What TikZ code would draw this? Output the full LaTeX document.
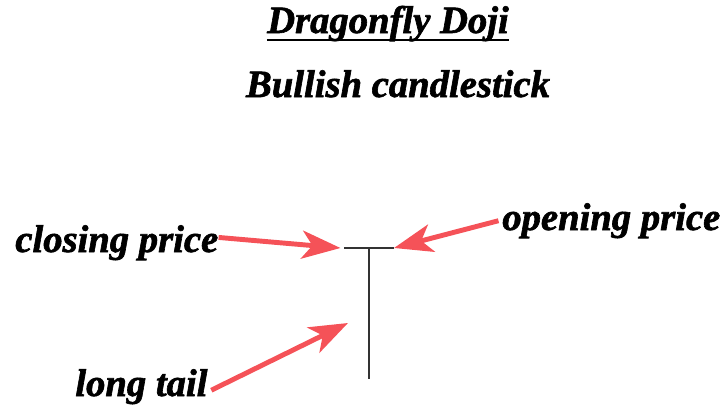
\documentclass[tikz,border=0pt]{standalone}
\usepackage{tikz}
\usepackage{xcolor}
\usepackage{fontspec}
\setmainfont{Liberation Serif}[BoldItalicFeatures={FakeBold=1.6}]
\usetikzlibrary{arrows.meta}
\definecolor{arrowred}{RGB}{245,82,88}
\tikzset{
	lbl/.style={inner sep=0pt, font=\fontsize{22}{26}\selectfont\bfseries\itshape, anchor=base west},
	pointer/.style={draw=arrowred, line width=2.8pt, -{Stealth[length=22pt,width=16pt,inset=6pt]}},
	wick/.style={line width=1.2pt, black!80}
}

\begin{document}
\begin{tikzpicture}[x=0.02cm,y=-0.02cm]
			\useasboundingbox (0,0) rectangle (725,407);
			\coordinate (A) at (344,248);
			\coordinate (B) at (394,248);
			\coordinate (M) at (369,248);
			\coordinate (L) at (369,379);
			\coordinate (P) at (348,323);
			\draw[wick] (A) -- (B);
			\draw[wick] (M) -- (L);
			\node[lbl, anchor=base] (T) at (388,33) {Dragonfly Doji};
			\draw[line width=1.5pt] ([yshift=-4pt]T.base west) -- ([yshift=-4pt]T.base east);
			\node[lbl, anchor=base] (S) at (398,97) {Bullish candlestick};
			\node[lbl] (C) at (15,252) {closing price};
			\node[lbl] (O) at (502,230) {opening price};
			\node[lbl] (G) at (75,396) {long tail};
			\draw[pointer] ([yshift=3pt]C.east) -- ([xshift=-2pt]A);
			\draw[pointer] ([xshift=-2pt]O.west) -- (B);
			\draw[pointer] ([xshift=2pt,yshift=-2pt]G.east) -- (P);
		\end{tikzpicture}
\end{document}
